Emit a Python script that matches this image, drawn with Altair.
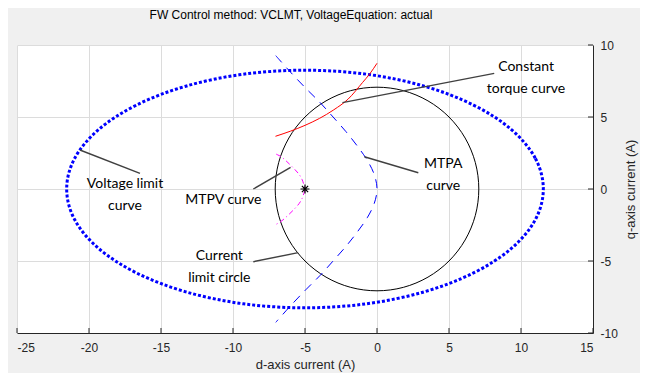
import altair as alt
import pandas as pd

# ---- data ----
# Voltage limit ellipse (d, q) points
ell_d = [11.55, 10.99, 9.33, 6.70, 3.28, -0.71, -5.0, -9.29, -13.28, -16.70, -19.33, -20.99,
         -21.55, -20.99, -19.33, -16.70, -13.28, -9.29, -5.0, -0.71, 3.28, 6.70, 9.33, 10.99]
ell_q = [0.0, 2.14, 4.13, 5.83, 7.14, 7.97, 8.25, 7.97, 7.14, 5.83, 4.13, 2.14,
         0.0, -2.14, -4.13, -5.83, -7.14, -7.97, -8.25, -7.97, -7.14, -5.83, -4.13, -2.14]
# Current limit circle
cir_d = [7.07, 6.83, 6.12, 5.00, 3.54, 1.83, 0.0, -1.83, -3.54, -5.00, -6.12, -6.83,
         -7.07, -6.83, -6.12, -5.00, -3.54, -1.83, 0.0, 1.83, 3.54, 5.00, 6.12, 6.83]
cir_q = [0.0, 1.83, 3.54, 5.00, 6.12, 6.83, 7.07, 6.83, 6.12, 5.00, 3.54, 1.83,
         0.0, -1.83, -3.54, -5.00, -6.12, -6.83, -7.07, -6.83, -6.12, -5.00, -3.54, -1.83]
# MTPA curve
mtpa_d = [-7.03, -6.04, -4.95, -3.95, -3.05, -2.17, -1.38, -0.68, -0.19, 0.0,
          -0.19, -0.68, -1.38, -2.17, -3.05, -3.95, -4.95, -6.04, -7.03]
mtpa_q = [9.26, 8.15, 7.0, 6.0, 5.0, 4.0, 3.0, 2.0, 1.0, 0.0,
          -1.0, -2.0, -3.0, -4.0, -5.0, -6.0, -7.0, -8.15, -9.26]
# Constant torque curve
trq_d = [-7.05, -6.0, -5.0, -4.0, -3.0, -2.0, -1.0, -0.5, 0.0]
trq_q = [3.66, 4.02, 4.42, 4.9, 5.5, 6.25, 7.4, 8.0, 8.73]
# MTPV curve
mtpv_d = [-7.0, -6.6, -6.1, -5.7, -5.4, -5.2, -5.08, -5.0,
          -5.08, -5.2, -5.4, -5.7, -6.1, -6.6, -7.05]
mtpv_q = [2.42, 2.2, 1.75, 1.35, 1.0, 0.65, 0.3, 0.0,
          -0.3, -0.65, -1.0, -1.35, -1.75, -2.2, -2.48]
# Operating point marker
star_d = [-5.0]
star_q = [0.0]

# Annotation leader lines (d1, q1, d2, q2)
ann_d1 = [8.14, -0.88, -8.59, -20.63, -8.59]
ann_q1 = [8.03, 2.24, 0.0, 2.71, -5.05]
ann_d2 = [-2.40, 2.87, -6.0, -16.46, -5.47]
ann_q2 = [6.0, 1.13, 1.5, 1.09, -4.42]
# Annotation texts
txt_label = ["Constant", "torque curve", "MTPA", "curve", "MTPV curve",
             "Voltage limit", "curve", "Current", "limit circle"]
txt_d = [10.35, 10.35, 4.6, 4.6, -10.67, -17.5, -17.5, -10.95, -10.95]
txt_q = [8.49, 6.97, 1.74, 0.23, -0.76, 0.33, -1.18, -4.65, -6.16]

x_ticks = [-25, -20, -15, -10, -5, 0, 5, 10, 15]
y_ticks = [-10, -5, 0, 5, 10]

# ---- tables ----
def curve(ds, qs):
    return pd.DataFrame({"d": ds, "q": qs, "i": list(range(len(ds)))})

ell = curve(ell_d, ell_q)
cir = curve(cir_d, cir_q)
mtpa = curve(mtpa_d, mtpa_q)
trq = curve(trq_d, trq_q)
mtpv = curve(mtpv_d, mtpv_q)
star = pd.DataFrame({"d": star_d, "q": star_q})
ann = pd.DataFrame({"d": ann_d1, "q": ann_q1, "d2": ann_d2, "q2": ann_q2})
txt = pd.DataFrame({"d": txt_d, "q": txt_q, "t": txt_label})
xt = pd.DataFrame({"d": x_ticks})
yt = pd.DataFrame({"q": y_ticks})

FONT = "Liberation Sans"
AX = "#262626"
xs = alt.Scale(domain=[-25, 15], nice=False, zero=False)
ys = alt.Scale(domain=[-10, 10], nice=False, zero=False)
xaxis = alt.Axis(values=x_ticks, orient="bottom", ticks=False, tickSize=0, grid=True,
                 gridColor="#dcdcdc", gridWidth=1, domainColor=AX, domainWidth=1,
                 labelFont=FONT, labelFontSize=12, labelColor=AX, labelPadding=9,
                 labelExpr="datum.value + ''",
                 title="d-axis current (A)", titleFont=FONT, titleFontSize=13,
                 titleFontWeight="normal", titleColor=AX, titlePadding=5)
yaxis = alt.Axis(values=y_ticks, orient="right", ticks=False, tickSize=0, grid=True,
                 gridColor="#dcdcdc", gridWidth=1, domainColor=AX, domainWidth=1,
                 labelFont=FONT, labelFontSize=12, labelColor=AX, labelPadding=7,
                 labelExpr="datum.value + ''",
                 title="q-axis current (A)", titleFont=FONT, titleFontSize=13,
                 titleFontWeight="normal", titleColor=AX, titleAngle=270, titlePadding=20)
X = alt.X("d:Q", scale=xs, axis=xaxis)
Y = alt.Y("q:Q", scale=ys, axis=yaxis)

ell_l = alt.Chart(ell).mark_line(color="#0000ff", strokeWidth=3, strokeDash=[3, 2],
                                 interpolate="cardinal-closed").encode(x=X, y=Y, order="i:Q")
cir_l = alt.Chart(cir).mark_line(color="#000000", strokeWidth=1,
                                 interpolate="cardinal-closed").encode(x=X, y=Y, order="i:Q")
mtpa_l = alt.Chart(mtpa).mark_line(color="#0000ff", strokeWidth=1, strokeDash=[9, 7],
                                   interpolate="cardinal").encode(x=X, y=Y, order="i:Q")
trq_l = alt.Chart(trq).mark_line(color="#ff0000", strokeWidth=1,
                                 interpolate="monotone").encode(x=X, y=Y, order="i:Q")
mtpv_l = alt.Chart(mtpv).mark_line(color="#ff00ff", strokeWidth=1, strokeDash=[5, 3, 1, 3],
                                   interpolate="cardinal").encode(x=X, y=Y, order="i:Q")
asterisk = "M-1,0L1,0M0,-1L0,1M-0.7,-0.7L0.7,0.7M-0.7,0.7L0.7,-0.7"
star_l = alt.Chart(star).mark_point(shape=asterisk, size=80, color="#000000", strokeWidth=1.2,
                                    opacity=1, filled=False).encode(x=X, y=Y)
ann_l = alt.Chart(ann).mark_rule(color="#404040", strokeWidth=1.4).encode(
    x=X, y=Y, x2="d2:Q", y2="q2:Q")
txt_l = alt.Chart(txt).mark_text(font="Lato", fontSize=14, color="#000000",
                                 align="center", baseline="middle").encode(x=X, y=Y, text="t:N")
xt_l = alt.Chart(xt).mark_rule(color=AX, strokeWidth=1).encode(
    x=X, y=alt.value(288), y2=alt.value(283))
yt_l = alt.Chart(yt).mark_rule(color=AX, strokeWidth=1).encode(
    y=Y, x=alt.value(576), x2=alt.value(571))

chart = alt.layer(ell_l, cir_l, mtpa_l, trq_l, mtpv_l, star_l, ann_l, txt_l, xt_l, yt_l).properties(
    width=576, height=288,
    title=alt.TitleParams(text="FW Control method: VCLMT, VoltageEquation: actual",
                          font=FONT, fontSize=12, fontWeight="normal", color="#000000",
                          dx=-14, offset=17),
    autosize=alt.AutoSizeParams(type="none"),
    padding={"left": 9, "top": 37, "right": 47, "bottom": 40},
    background="#f0f0f0",
).configure_view(fill="#ffffff", stroke=None)

chart.save("out.html", embed_options={"renderer": "svg", "actions": False})
